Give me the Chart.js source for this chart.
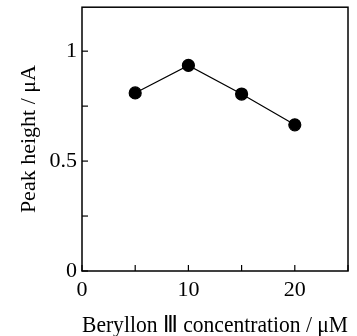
<!DOCTYPE html>
<html>
<head>
<meta charset="utf-8">
<script src="https://cdn.jsdelivr.net/npm/chart.js@4/dist/chart.umd.min.js"></script>
<style>
  html, body { margin: 0; padding: 0; background: #fff; }
  #wrap { width: 357px; height: 336px; }
</style>
</head>
<body>
<div id="wrap"><canvas id="chart" width="357" height="336"></canvas></div>
<script>
// data
var concentrations = [5, 10, 15, 20];
var peakHeights = [0.81, 0.935, 0.805, 0.665];

var xTickLabels = [0, 10, 20];
var yTickLabels = [0, 0.5, 1];

var serif = "'Liberation Serif', 'Times New Roman', serif";

// frame + inward tick marks
var framePlugin = {
  id: 'frame',
  afterDraw: function(chart) {
    var ctx = chart.ctx;
    var a = chart.chartArea;
    ctx.save();
    ctx.strokeStyle = '#000';
    ctx.lineWidth = 1.5;
    ctx.strokeRect(a.left, a.top, a.right - a.left, a.bottom - a.top);

    ctx.lineWidth = 1.2;
    var xs = chart.scales.x;
    xs.ticks.forEach(function(t) {
      if (t.value % 5 !== 0) return;
      var px = xs.getPixelForValue(t.value);
      ctx.beginPath();
      ctx.moveTo(px, a.bottom);
      ctx.lineTo(px, a.bottom - 6);
      ctx.stroke();
    });
    var ys = chart.scales.y;
    ys.ticks.forEach(function(t) {
      if (Math.abs(t.value * 4 - Math.round(t.value * 4)) > 1e-6) return;
      var py = ys.getPixelForValue(t.value);
      ctx.beginPath();
      ctx.moveTo(a.left, py);
      ctx.lineTo(a.left + 6, py);
      ctx.stroke();
    });
    ctx.restore();
  }
};

new Chart(document.getElementById('chart'), {
  type: 'scatter',
  data: {
    datasets: [{
      data: concentrations.map(function(c, i) { return { x: c, y: peakHeights[i] }; }),
      showLine: true,
      borderColor: '#000',
      borderWidth: 1.2,
      backgroundColor: '#000',
      pointRadius: 6,
      pointHoverRadius: 6
    }]
  },
  options: {
    responsive: false,
    animation: false,
    layout: { padding: { top: 7, right: 9, left: 0, bottom: 0 } },
    plugins: { legend: { display: false }, tooltip: { enabled: false } },
    scales: {
      x: {
        type: 'linear',
        min: 0,
        max: 25,
        afterFit: function(s) { s.height = 65; s.paddingLeft = 0; s.paddingRight = 0; },
        grid: { display: false, drawTicks: false },
        border: { display: false },
        ticks: {
          stepSize: 5,
          autoSkip: false,
          maxRotation: 0,
          padding: 6,
          color: '#000',
          font: { family: serif, size: 22 },
          callback: function(v) { return xTickLabels.indexOf(v) >= 0 ? String(v) : ''; }
        },
        title: {
          display: true,
          text: 'Beryllon Ⅲ concentration / μM',
          color: '#000',
          font: { family: serif, size: 23 },
          padding: { top: 10, bottom: -4 }
        }
      },
      y: {
        min: 0,
        max: 1.2,
        afterFit: function(s) { s.width = 82; s.paddingTop = 0; s.paddingBottom = 0; },
        grid: { display: false, drawTicks: false },
        border: { display: false },
        ticks: {
          stepSize: 0.25,
          autoSkip: false,
          padding: 5,
          color: '#000',
          font: { family: serif, size: 22 },
          callback: function(v) { return yTickLabels.indexOf(v) >= 0 ? String(v) : ''; }
        },
        title: {
          display: true,
          text: 'Peak height / μA',
          color: '#000',
          font: { family: serif, size: 22 },
          padding: { top: 16, bottom: 0 }
        }
      }
    }
  },
  plugins: [framePlugin]
});
</script>
</body>
</html>
